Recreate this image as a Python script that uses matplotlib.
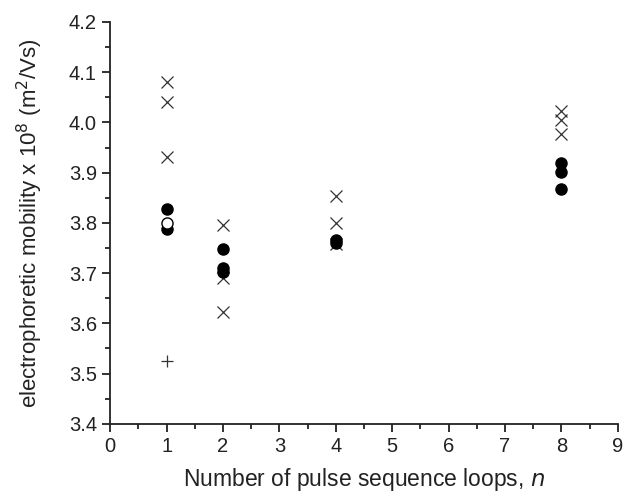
import matplotlib
matplotlib.use("Agg")
import matplotlib.pyplot as plt
from matplotlib.ticker import MultipleLocator

plt.rcParams['font.family'] = ['Liberation Sans', 'DejaVu Sans']

# crosses
x_cross = [1, 1, 1, 2, 2, 2, 4, 4, 4, 8, 8, 8]
y_cross = [4.080, 4.040, 3.932, 3.796, 3.690, 3.622, 3.854, 3.800, 3.758, 4.022, 4.005, 3.977]
# filled circles
x_dot = [1, 1, 2, 2, 2, 4, 4, 8, 8, 8]
y_dot = [3.828, 3.788, 3.748, 3.711, 3.703, 3.765, 3.759, 3.920, 3.901, 3.868]
# open circle
x_open = [1]
y_open = [3.800]
# plus
x_plus = [1]
y_plus = [3.526]

fig = plt.figure(figsize=(6.26, 4.98), dpi=100)
ax = fig.add_axes([0.176, 0.149, 0.811, 0.807])

ax.plot(x_cross, y_cross, ls='none', marker='x', ms=8, mew=0.9, color='#333333')
ax.plot(x_dot, y_dot, ls='none', marker='o', ms=8, color='black')
ax.plot(x_open, y_open, ls='none', marker='o', ms=8, mfc='white', mec='black', mew=1.0)
ax.plot(x_plus, y_plus, ls='none', marker='+', ms=9, mew=0.9, color='#333333')

ax.set_xlim(0, 9)
ax.set_ylim(3.4, 4.2)
ax.xaxis.set_major_locator(MultipleLocator(1))
ax.xaxis.set_minor_locator(MultipleLocator(0.5))
ax.yaxis.set_major_locator(MultipleLocator(0.1))
ax.yaxis.set_minor_locator(MultipleLocator(0.05))
ax.yaxis.set_major_formatter(plt.FormatStrFormatter('%.1f'))

for s in ['top', 'right']:
    ax.spines[s].set_visible(False)
for s in ['left', 'bottom']:
    ax.spines[s].set_linewidth(1.3)
    ax.spines[s].set_color('#222222')

ax.tick_params(which='major', direction='out', length=6, width=1.3, labelsize=14.5, colors='#222222')
ax.tick_params(which='minor', direction='out', length=3.5, width=1.3, colors='#222222')

ax.set_xlabel('Number of pulse sequence loops, $\\it{n}$', fontsize=16.5, labelpad=7, color='#222222')
ax.set_ylabel('electrophoretic mobility x 10$^{8}$ (m$^{2}$/Vs)', fontsize=16, labelpad=17, color='#222222')

fig.savefig('out.png', dpi=100)
